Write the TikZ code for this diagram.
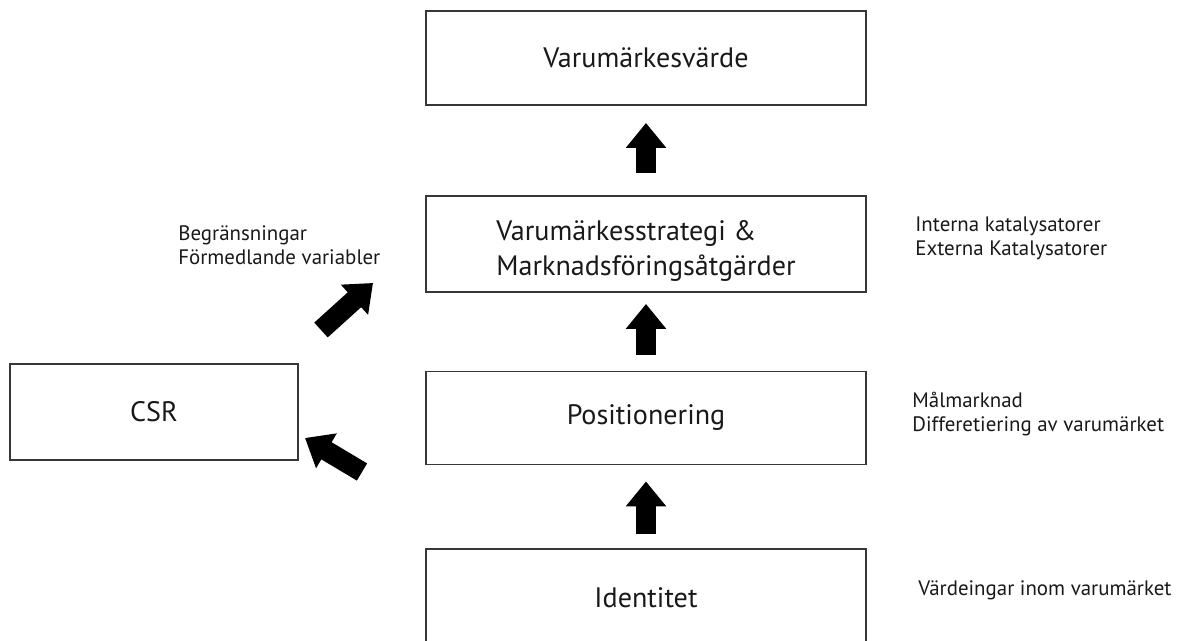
\documentclass[tikz,border=0pt]{standalone}
\usepackage{fontspec}
\setmainfont{PT Sans}
\usetikzlibrary{positioning,arrows.meta}
\definecolor{boxline}{RGB}{55,55,55}
\definecolor{inkdark}{RGB}{25,25,25}
\tikzset{
  flowbox/.style={draw=boxline,line width=1.1pt,minimum width=8.8cm,
    minimum height=1.9cm,inner sep=0pt,text=inkdark,
    font=\fontsize{16}{19}\selectfont},
  sidenote/.style={anchor=west,align=left,inner sep=0pt,text=inkdark,
    font=\fontsize{11.9}{13.6}\selectfont},
  blockarrow/.style={line width=0.4cm,-{Triangle[width=0.78cm,length=0.5cm]}}
}
\begin{document}
\begin{tikzpicture}[x=0.02cm,y=-0.02cm]
    \useasboundingbox (0,0) rectangle (1181,641);
    \clip (0,0) rectangle (1181,641);
    % main chain
    \node[flowbox,minimum height=1.88cm] (value) at (646,58) {Varumärkesvärde};
    \node[flowbox,minimum height=1.92cm] (strategy) at (646,244) {};
    \node[inner sep=0pt,align=left,text=inkdark,font=\fontsize{16}{19.5}\selectfont]
      (strategytext) at ([yshift=-0.14cm]strategy.center)
      {Varumärkesstrategi \&\\Marknadsföringsåtgärder};
    \node[flowbox,minimum height=1.86cm] (position) at (646,418) {Positionering};
    \node[flowbox,minimum height=1.96cm] (identity) at (646,598) {Identitet};
    \node[flowbox,minimum width=5.76cm,minimum height=1.92cm] (csr) at (154,412) {CSR};
    % side notes
    \node[sidenote] (limits) at (178,245) {Begränsningar\\Förmedlande variabler};
    \node[sidenote] (catalysts) at (915,238) {Interna katalysatorer\\Externa Katalysatorer};
    \node[sidenote] (market) at (912,414) {Målmarknad\\Differetiering av varumärket};
    \node[sidenote] (values) at (918,590) {Värdeingar inom varumärket};
    % block arrows
    \draw[blockarrow] ([yshift=0.44cm]strategy.north) -- ([yshift=-0.34cm]value.south);
    \draw[blockarrow] ([yshift=0.32cm]position.north) -- ([yshift=-0.22cm]strategy.south);
    \draw[blockarrow] ([yshift=0.28cm]identity.north) -- ([yshift=-0.32cm]position.south);
    \coordinate (csrout) at (321,330);
    \coordinate (csrin) at (373,283);
    \draw[blockarrow] (csrout) -- (csrin);
    \coordinate (identout) at (362,472);
    \coordinate (identin) at (305,438);
    \draw[blockarrow] (identout) -- (identin);
\end{tikzpicture}
\end{document}
